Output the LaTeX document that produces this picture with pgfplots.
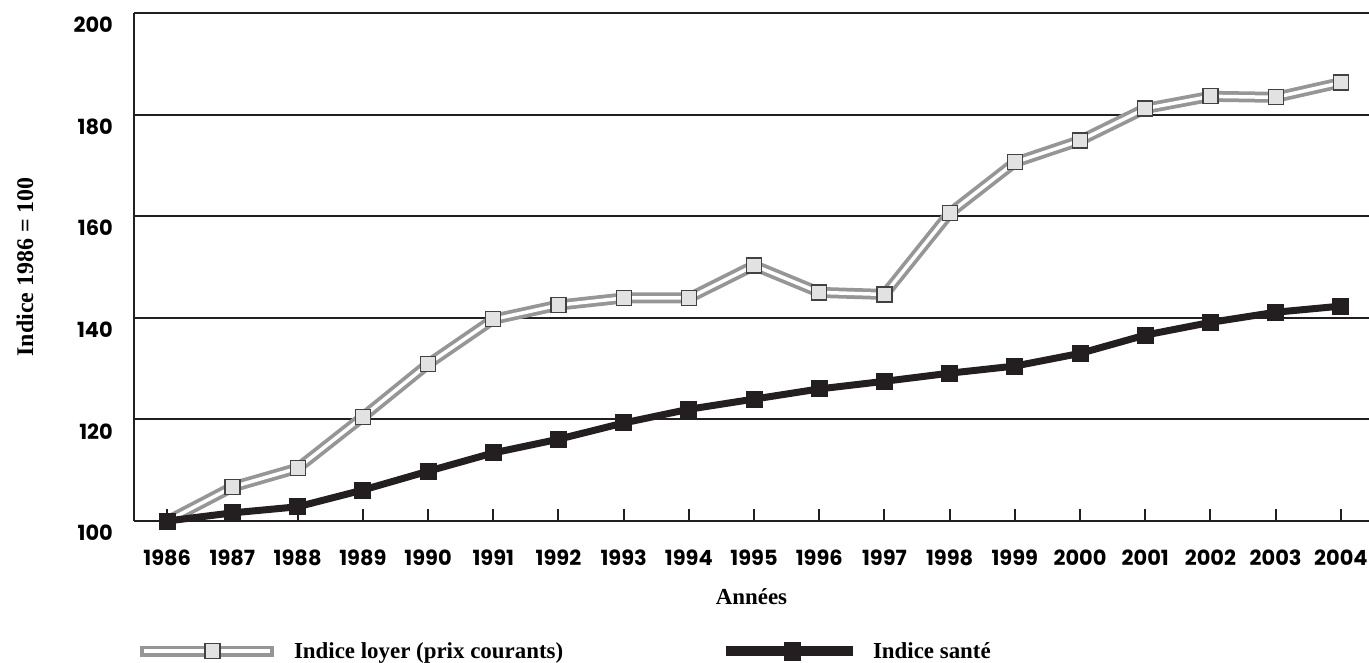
\documentclass[border=0pt]{standalone}
\usepackage{fontspec}
\setmainfont{Liberation Serif}
\newfontfamily\tickfont{Poppins}
\usepackage{pgfplots}
\usepackage{pgfplotstable}
\pgfplotsset{compat=1.18}
\definecolor{lgray}{HTML}{969696}
\definecolor{mfill}{HTML}{E2E2E2}
\definecolor{dk}{HTML}{231F20}

\pgfplotstableread{
year loyer sante
1986 100.0 100.0
1987 106.7 101.6
1988 110.4 102.8
1989 120.5 106.1
1990 130.9 109.8
1991 139.7 113.4
1992 142.5 116.1
1993 143.9 119.3
1994 143.9 122.0
1995 150.3 124.0
1996 145.0 126.0
1997 144.6 127.5
1998 160.6 129.1
1999 170.6 130.5
2000 174.9 133.0
2001 181.2 136.6
2002 183.6 139.1
2003 183.4 141.1
2004 186.3 142.3
}\datatable

\begin{document}
\begin{tikzpicture}
\begin{axis}[
  scale only axis, width=1235bp, height=508bp,
  xmin=1985.49, xmax=2004.43, ymin=100, ymax=200,
  axis lines=left, axis line style={-, dk, line width=2bp},
  xtick={1986,...,2004},
  xticklabels={1986,1987,1988,1989,1990,1991,1992,1993,1994,1995,1996,1997,1998,1999,2000,2001,2002,2003,2004},
  ytick={100,120,140,160,180,200},
  yticklabels={100,120,140,160,180,200},
  ymajorgrids, grid style={dk, line width=2bp},
  major y tick style={draw=none},
  major x tick style={dk, line width=2bp},
  major tick length=12bp, tick align=inside,
  xticklabel style={font=\tickfont\bfseries\fontsize{21}{21}\selectfont, anchor=north, inner sep=0pt, yshift=-29bp},
  yticklabel style={font=\tickfont\bfseries\fontsize{21}{21}\selectfont, anchor=east, inner sep=0pt, xshift=-21bp, yshift=-12bp},
  xlabel={Années},
  xlabel style={font=\bfseries\fontsize{23}{23}\selectfont, at={(axis description cs:0.5,0)}, anchor=center, yshift=-76bp},
  ylabel={Indice 1986 = 100},
  ylabel style={font=\bfseries\fontsize{24}{24}\selectfont, at={(axis description cs:0,0.5)}, anchor=center, yshift=109bp},
  legend columns=2,
  legend cell align=left,
  legend style={at={(0,0)}, anchor=west, xshift=1bp, yshift=-130bp, draw=none, fill=none, inner sep=0pt, outer sep=0pt,
    nodes={inner sep=0pt}, font=\bfseries\fontsize{23}{23}\selectfont,
    /tikz/every odd column/.append style={column sep=15bp}},
  clip=false,
]
\addplot[lgray, line width=11bp, forget plot] table[x=year, y=loyer] {\datatable};
\addplot[white, line width=3.5bp, forget plot] table[x=year, y=loyer] {\datatable};
\addplot[only marks, mark=square*, mark size=7.5bp, mark options={draw=dk!85, fill=mfill, line width=1.2bp}, forget plot] table[x=year, y=loyer] {\datatable};
\addplot[dk, line width=7bp, mark=square*, mark size=8bp, mark options={fill=dk, draw=dk, line width=0pt}, forget plot] table[x=year, y=sante] {\datatable};

\addlegendimage{legend image code/.code={
  \draw[lgray, line width=11bp] (0bp,0bp) -- (133bp,0bp);
  \draw[white, line width=3.5bp] (4bp,0bp) -- (129bp,0bp);
  \draw[dk!85, fill=mfill, line width=1.2bp] (64.5bp,-7.5bp) rectangle (79.5bp,7.5bp);
}}
\addlegendentry{\makebox[427bp][l]{Indice loyer (prix courants)}}
\addlegendimage{legend image code/.code={
  \draw[dk, line width=10bp] (0bp,0bp) -- (127bp,0bp);
  \fill[dk] (58bp,-9bp) rectangle (74bp,9bp);
}}
\addlegendentry{Indice santé}

\coordinate (bl) at (rel axis cs:0,0);
\coordinate (tr) at (rel axis cs:1,1);
\end{axis}
\pgfresetboundingbox
\path[use as bounding box] ([shift={(-134bp,-141bp)}]bl) rectangle ([shift={(0bp,13bp)}]tr);
\end{tikzpicture}
\end{document}
